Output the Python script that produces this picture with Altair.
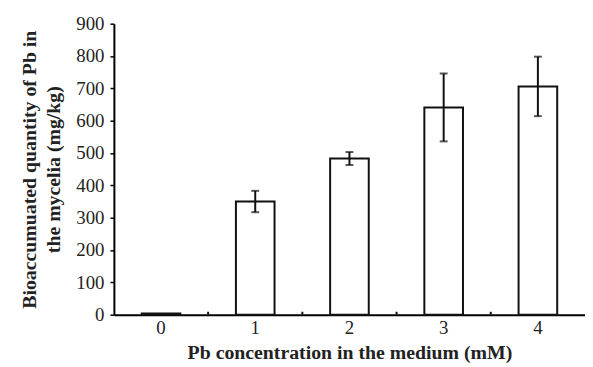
import altair as alt
import pandas as pd

categories = ["0", "1", "2", "3", "4"]
values = [4, 350, 483, 641, 706]
errors = [0, 33, 20, 105, 92]
boundaries = ["1", "2", "3", "4"]

df = pd.DataFrame({
    "cat": categories,
    "val": values,
    "lo": [v - e for v, e in zip(values, errors)],
    "hi": [v + e for v, e in zip(values, errors)],
})
err_df = df[df["cat"] != "0"]
bdf = pd.DataFrame({"cat": boundaries, "y0": [0] * 4, "y1": [9] * 4})

font = "Liberation Serif"
xscale = alt.Scale(domain=categories, paddingInner=0, paddingOuter=0)
yscale = alt.Scale(domain=[0, 900], nice=False)

xaxis = alt.Axis(title="Pb concentration in the medium (mM)", labelAngle=0,
                 ticks=False, labelPadding=4, titlePadding=5,
                 domainColor="black", domainWidth=2,
                 labelFont=font, labelFontSize=19, labelColor="#222",
                 titleFont=font, titleFontSize=20, titleFontWeight="bold",
                 titleColor="#222")
yaxis = alt.Axis(title=["Bioaccumuated quantity of Pb in", "the mycelia (mg/kg)"],
                 values=list(range(0, 1000, 100)), grid=False, labelOverlap=False,
                 tickSize=4, tickColor="black", tickWidth=1.5,
                 domainColor="black", domainWidth=2, labelPadding=6,
                 labelFont=font, labelFontSize=19, labelColor="#222",
                 titleFont=font, titleFontSize=20, titleFontWeight="bold",
                 titleColor="#222", titlePadding=12, titleLineHeight=25)


def X(**kw):
    return alt.X("cat:N", scale=xscale, sort=categories, axis=xaxis, **kw)


def Y(field):
    return alt.Y(field, scale=yscale, axis=yaxis)


bars = alt.Chart(df).mark_bar(fill="white", stroke="#111", strokeWidth=2,
                               width=alt.RelativeBandSize(0.41)).encode(x=X(), y=Y("val:Q"))

rules = alt.Chart(err_df).mark_rule(color="#111", strokeWidth=2).encode(
    x=X(), y=Y("lo:Q"), y2="hi:Q")
caps_hi = alt.Chart(err_df).mark_tick(color="#111", thickness=2, size=8).encode(
    x=X(), y=Y("hi:Q"))
caps_lo = alt.Chart(err_df).mark_tick(color="#111", thickness=2, size=8).encode(
    x=X(), y=Y("lo:Q"))
bticks = alt.Chart(bdf).mark_rule(color="#111", strokeWidth=2).encode(
    x=X(bandPosition=0), y=Y("y0:Q"), y2="y1:Q")

chart = alt.layer(bars, rules, caps_hi, caps_lo, bticks).properties(
    width=476, height=294,
    autosize=alt.AutoSizeParams(type="none"),
    padding={"left": 107, "top": 14, "right": 0, "bottom": 50},
).configure(background="white").configure_view(stroke=None, strokeWidth=0)

chart.save("out.html", embed_options={"renderer": "svg", "actions": False})
